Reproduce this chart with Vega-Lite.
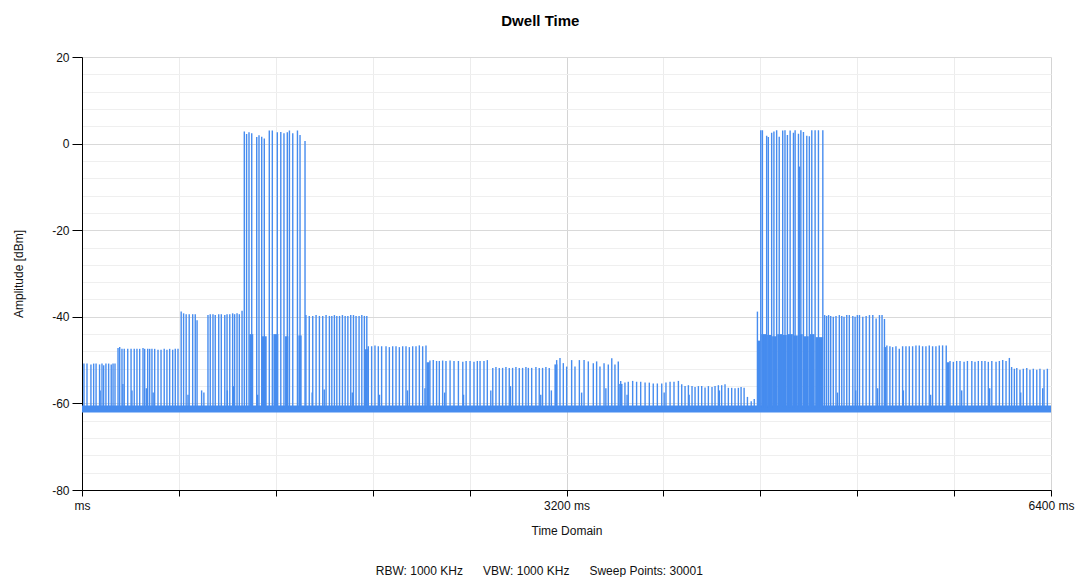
{
  "$schema": "https://vega.github.io/schema/vega-lite/v6.json",
  "background": "white",
  "padding": {"left": 12, "top": 14, "right": 3, "bottom": 0},
  "title": {
    "text": "RBW: 1000 KHz\u00a0\u00a0\u00a0\u00a0\u00a0\u00a0VBW: 1000 KHz\u00a0\u00a0\u00a0\u00a0\u00a0\u00a0Sweep Points: 30001",
    "orient": "bottom",
    "anchor": "middle",
    "font": "Liberation Sans",
    "fontSize": 12,
    "fontWeight": "normal",
    "color": "#111",
    "offset": 30,
    "dx": -4
  },
  "datasets": {
    "baseline": [
      {"t": 0, "lo": -62.1, "hi": -60.5},
      {"t": 6400, "lo": -62.1, "hi": -60.5}
    ],
    "blocks": [
      {"t0": 1105, "t1": 1131, "top": -44}, {"t0": 1187, "t1": 1220, "top": -44.5}, {"t0": 1264, "t1": 1297, "top": -44},
      {"t0": 1341, "t1": 1363, "top": -44.5}, {"t0": 1429, "t1": 1451, "top": -44.3},
      {"t0": 4462, "t1": 4480, "top": -45.5}, {"t0": 4486, "t1": 4520, "top": -44}, {"t0": 4525, "t1": 4552, "top": -44.2},
      {"t0": 4558, "t1": 4585, "top": -44.5}, {"t0": 4592, "t1": 4625, "top": -44}, {"t0": 4630, "t1": 4655, "top": -44.2},
      {"t0": 4662, "t1": 4695, "top": -44}, {"t0": 4702, "t1": 4728, "top": -44.3}, {"t0": 4735, "t1": 4760, "top": -44},
      {"t0": 4768, "t1": 4800, "top": -44.5}, {"t0": 4808, "t1": 4838, "top": -44}, {"t0": 4845, "t1": 4895, "top": -44.7},
      {"t0": 2276, "t1": 2296, "top": -50.5}, {"t0": 3120, "t1": 3140, "top": -51}, {"t0": 3548, "t1": 3570, "top": -55.5},
      {"t0": 5711, "t1": 5730, "top": -50.5}, {"t0": 5296, "t1": 5312, "top": -47}, {"t0": 1868, "t1": 1888, "top": -47.5}
    ],
    "spikes": [
      {"t": 13, "p": -50.8}, {"t": 33, "p": -50.8}, {"t": 59, "p": -51}, {"t": 77, "p": -50.8}, {"t": 93, "p": -50.8},
      {"t": 116, "p": -51}, {"t": 132, "p": -50.8}, {"t": 143, "p": -51.2}, {"t": 158, "p": -50.8}, {"t": 176, "p": -50.8},
      {"t": 193, "p": -51}, {"t": 205, "p": -50.8}, {"t": 218, "p": -50.8},
      {"t": 238, "p": -47.2}, {"t": 249, "p": -47}, {"t": 264, "p": -47.4}, {"t": 279, "p": -47.4}, {"t": 302, "p": -47.4},
      {"t": 324, "p": -47.4}, {"t": 345, "p": -47.4}, {"t": 363, "p": -47.4}, {"t": 381, "p": -47.4}, {"t": 403, "p": -47.2},
      {"t": 414, "p": -47.4}, {"t": 434, "p": -47.4}, {"t": 447, "p": -47.4}, {"t": 462, "p": -47.4}, {"t": 480, "p": -47.4},
      {"t": 502, "p": -47.6}, {"t": 522, "p": -47.6}, {"t": 543, "p": -47.4}, {"t": 561, "p": -47.6}, {"t": 579, "p": -47.4},
      {"t": 599, "p": -47.6}, {"t": 616, "p": -47.4}, {"t": 634, "p": -47.4},
      {"t": 655, "p": -38.8}, {"t": 671, "p": -39.2}, {"t": 688, "p": -39.4}, {"t": 708, "p": -39.4}, {"t": 731, "p": -39.4},
      {"t": 748, "p": -39.4}, {"t": 760, "p": -40.8},
      {"t": 832, "p": -39.6}, {"t": 847, "p": -39.4}, {"t": 865, "p": -39.4}, {"t": 880, "p": -39.6}, {"t": 903, "p": -39.4},
      {"t": 920, "p": -39.4}, {"t": 943, "p": -39.6}, {"t": 958, "p": -39.4}, {"t": 976, "p": -39.4}, {"t": 995, "p": -39.2},
      {"t": 1008, "p": -39.4}, {"t": 1024, "p": -39.2}, {"t": 1039, "p": -39.4}, {"t": 1057, "p": -38.6},
      {"t": 1072, "p": 2.8}, {"t": 1087, "p": 2.2}, {"t": 1103, "p": 2.6}, {"t": 1121, "p": 2.4}, {"t": 1154, "p": 1.5},
      {"t": 1169, "p": 1.9}, {"t": 1187, "p": 1.6}, {"t": 1204, "p": 1.2}, {"t": 1237, "p": 3.0}, {"t": 1257, "p": 3.0},
      {"t": 1290, "p": 2.6}, {"t": 1313, "p": 2.7}, {"t": 1334, "p": 2.4}, {"t": 1356, "p": 2.6}, {"t": 1370, "p": 3.0},
      {"t": 1392, "p": 2.4}, {"t": 1423, "p": 3.0}, {"t": 1440, "p": 2.0}, {"t": 1473, "p": 0.6},
      {"t": 1479, "p": -39.6}, {"t": 1501, "p": -39.8}, {"t": 1524, "p": -39.8}, {"t": 1546, "p": -39.6}, {"t": 1568, "p": -39.8},
      {"t": 1590, "p": -39.8}, {"t": 1612, "p": -39.6}, {"t": 1634, "p": -39.8}, {"t": 1650, "p": -39.8}, {"t": 1667, "p": -39.6},
      {"t": 1683, "p": -39.8}, {"t": 1701, "p": -39.8}, {"t": 1720, "p": -39.6}, {"t": 1738, "p": -39.8}, {"t": 1756, "p": -39.8},
      {"t": 1775, "p": -39.6}, {"t": 1793, "p": -39.6}, {"t": 1810, "p": -39.8}, {"t": 1830, "p": -39.8}, {"t": 1848, "p": -39.6},
      {"t": 1865, "p": -39.8}, {"t": 1881, "p": -39.8},
      {"t": 1891, "p": -46.8}, {"t": 1913, "p": -46.8}, {"t": 1935, "p": -46.6}, {"t": 1957, "p": -46.8}, {"t": 1979, "p": -46.8},
      {"t": 2008, "p": -46.8}, {"t": 2030, "p": -47}, {"t": 2052, "p": -46.8}, {"t": 2074, "p": -46.8}, {"t": 2096, "p": -47},
      {"t": 2118, "p": -46.8}, {"t": 2140, "p": -46.8}, {"t": 2162, "p": -47}, {"t": 2184, "p": -46.8}, {"t": 2206, "p": -46.8},
      {"t": 2228, "p": -46.6}, {"t": 2250, "p": -46.8}, {"t": 2272, "p": -46.6},
      {"t": 2298, "p": -50.1}, {"t": 2320, "p": -50}, {"t": 2342, "p": -50.2}, {"t": 2360, "p": -50.2}, {"t": 2382, "p": -50.1},
      {"t": 2404, "p": -50.2}, {"t": 2431, "p": -50.1}, {"t": 2457, "p": -50.2}, {"t": 2486, "p": -50.2}, {"t": 2515, "p": -50.4},
      {"t": 2537, "p": -50.2}, {"t": 2563, "p": -50.2}, {"t": 2589, "p": -50.4}, {"t": 2611, "p": -50.2}, {"t": 2629, "p": -50.2},
      {"t": 2655, "p": -50.2}, {"t": 2677, "p": -50},
      {"t": 2713, "p": -51.8}, {"t": 2734, "p": -51.6}, {"t": 2756, "p": -51.8}, {"t": 2778, "p": -51.8}, {"t": 2800, "p": -51.6},
      {"t": 2822, "p": -51.8}, {"t": 2844, "p": -51.8}, {"t": 2866, "p": -51.6}, {"t": 2888, "p": -51.8}, {"t": 2910, "p": -51.8},
      {"t": 2932, "p": -51.6}, {"t": 2948, "p": -51.8}, {"t": 2970, "p": -51.8}, {"t": 2998, "p": -51.6}, {"t": 3020, "p": -51.8},
      {"t": 3042, "p": -51.8}, {"t": 3064, "p": -51.6}, {"t": 3086, "p": -51.8},
      {"t": 3135, "p": -50}, {"t": 3157, "p": -49.5}, {"t": 3179, "p": -50.7}, {"t": 3201, "p": -51.5}, {"t": 3234, "p": -50},
      {"t": 3256, "p": -51.5}, {"t": 3285, "p": -50}, {"t": 3316, "p": -50}, {"t": 3344, "p": -50.3}, {"t": 3377, "p": -50.7},
      {"t": 3399, "p": -50.3}, {"t": 3421, "p": -51.5}, {"t": 3448, "p": -50.7}, {"t": 3476, "p": -51}, {"t": 3499, "p": -49.6},
      {"t": 3520, "p": -51}, {"t": 3542, "p": -50.3},
      {"t": 3558, "p": -54.8}, {"t": 3586, "p": -55.2}, {"t": 3608, "p": -55}, {"t": 3637, "p": -54.8}, {"t": 3663, "p": -55},
      {"t": 3690, "p": -55}, {"t": 3719, "p": -55.2}, {"t": 3747, "p": -55.2}, {"t": 3773, "p": -55.4}, {"t": 3800, "p": -55.4},
      {"t": 3829, "p": -55.4}, {"t": 3857, "p": -55.2}, {"t": 3884, "p": -55}, {"t": 3910, "p": -55}, {"t": 3939, "p": -54.8},
      {"t": 3961, "p": -55.6}, {"t": 3983, "p": -56}, {"t": 4005, "p": -55.8}, {"t": 4029, "p": -56}, {"t": 4049, "p": -56.2},
      {"t": 4071, "p": -56}, {"t": 4093, "p": -56}, {"t": 4115, "p": -56.3}, {"t": 4137, "p": -56}, {"t": 4161, "p": -56.2},
      {"t": 4181, "p": -56}, {"t": 4203, "p": -55.8}, {"t": 4225, "p": -55.8}, {"t": 4247, "p": -55.6}, {"t": 4269, "p": -56.4},
      {"t": 4291, "p": -56.4}, {"t": 4313, "p": -56.5}, {"t": 4335, "p": -56.4}, {"t": 4353, "p": -56.2}, {"t": 4373, "p": -56.4},
      {"t": 4395, "p": -58.5}, {"t": 4420, "p": -59.5}, {"t": 4440, "p": -59},
      {"t": 4461, "p": -38.8},
      {"t": 4483, "p": 3.1}, {"t": 4494, "p": 3.1}, {"t": 4522, "p": 1.8}, {"t": 4533, "p": 1.5}, {"t": 4555, "p": 2.5},
      {"t": 4570, "p": 2.8}, {"t": 4588, "p": 3.1}, {"t": 4605, "p": 1.6}, {"t": 4628, "p": 3.0}, {"t": 4643, "p": 3.1},
      {"t": 4659, "p": 2.0}, {"t": 4677, "p": 3.0}, {"t": 4699, "p": 2.5}, {"t": 4710, "p": 3.1}, {"t": 4732, "p": 2.3},
      {"t": 4740, "p": -5.3}, {"t": 4748, "p": 3.1}, {"t": 4765, "p": 2.7}, {"t": 4787, "p": 1.8}, {"t": 4804, "p": 1.7},
      {"t": 4820, "p": 3.1}, {"t": 4842, "p": 3.1}, {"t": 4864, "p": 3.1}, {"t": 4893, "p": 3.1},
      {"t": 4905, "p": -39.6}, {"t": 4918, "p": -39.8}, {"t": 4931, "p": -39.6}, {"t": 4945, "p": -39.8}, {"t": 4962, "p": -40},
      {"t": 4980, "p": -39.8}, {"t": 5002, "p": -39.6}, {"t": 5018, "p": -39.8}, {"t": 5033, "p": -40}, {"t": 5051, "p": -39.6},
      {"t": 5068, "p": -39.6}, {"t": 5091, "p": -39.8}, {"t": 5106, "p": -40}, {"t": 5121, "p": -39.6}, {"t": 5135, "p": -39.6},
      {"t": 5157, "p": -40}, {"t": 5179, "p": -39.8}, {"t": 5201, "p": -39.6}, {"t": 5223, "p": -39.6}, {"t": 5245, "p": -40.4},
      {"t": 5267, "p": -39.6}, {"t": 5284, "p": -39.6}, {"t": 5300, "p": -40.5},
      {"t": 5316, "p": -46.6}, {"t": 5336, "p": -46.8}, {"t": 5354, "p": -47}, {"t": 5376, "p": -46.8}, {"t": 5398, "p": -47.4},
      {"t": 5420, "p": -46.8}, {"t": 5442, "p": -46.8}, {"t": 5464, "p": -46.8}, {"t": 5486, "p": -46.8}, {"t": 5508, "p": -46.6},
      {"t": 5530, "p": -46.6}, {"t": 5552, "p": -46.8}, {"t": 5574, "p": -46.8}, {"t": 5596, "p": -46.6}, {"t": 5618, "p": -46.8},
      {"t": 5640, "p": -46.8}, {"t": 5662, "p": -46.6}, {"t": 5684, "p": -46.6}, {"t": 5708, "p": -46.6},
      {"t": 5733, "p": -50.2}, {"t": 5755, "p": -50.4}, {"t": 5777, "p": -50.2}, {"t": 5799, "p": -50.2}, {"t": 5826, "p": -50.4},
      {"t": 5848, "p": -50.2}, {"t": 5877, "p": -50.2}, {"t": 5898, "p": -50.4}, {"t": 5920, "p": -50.2}, {"t": 5943, "p": -50.2},
      {"t": 5964, "p": -50.2}, {"t": 5986, "p": -50.4}, {"t": 6009, "p": -50.2}, {"t": 6037, "p": -50.4}, {"t": 6059, "p": -50.2},
      {"t": 6081, "p": -50}, {"t": 6103, "p": -50.2}, {"t": 6125, "p": -49.5},
      {"t": 6140, "p": -51.6}, {"t": 6158, "p": -52}, {"t": 6174, "p": -51.8}, {"t": 6195, "p": -52.2}, {"t": 6217, "p": -52},
      {"t": 6240, "p": -51.8}, {"t": 6261, "p": -52.2}, {"t": 6283, "p": -52}, {"t": 6306, "p": -52.2}, {"t": 6327, "p": -52},
      {"t": 6354, "p": -52.2}, {"t": 6376, "p": -52},
      {"t": 120, "p": -57}, {"t": 270, "p": -55.5}, {"t": 330, "p": -57}, {"t": 425, "p": -56.5}, {"t": 470, "p": -57.5},
      {"t": 700, "p": -58}, {"t": 790, "p": -57}, {"t": 805, "p": -57.5}, {"t": 960, "p": -57}, {"t": 1000, "p": -56},
      {"t": 1160, "p": -58}, {"t": 1520, "p": -57.5}, {"t": 1600, "p": -56.8}, {"t": 1785, "p": -57.5}, {"t": 1875, "p": -57},
      {"t": 1965, "p": -58}, {"t": 2150, "p": -57}, {"t": 2265, "p": -56.5}, {"t": 2395, "p": -57.5}, {"t": 2520, "p": -58},
      {"t": 2700, "p": -57}, {"t": 2830, "p": -56}, {"t": 3030, "p": -58}, {"t": 3100, "p": -57}, {"t": 3300, "p": -57.5},
      {"t": 3460, "p": -56.5}, {"t": 3600, "p": -58}, {"t": 3845, "p": -57.5}, {"t": 4010, "p": -58}, {"t": 4210, "p": -57},
      {"t": 4990, "p": -57.5}, {"t": 5110, "p": -57}, {"t": 5255, "p": -56.5}, {"t": 5425, "p": -57}, {"t": 5605, "p": -58},
      {"t": 5810, "p": -57}, {"t": 5995, "p": -56.5}, {"t": 6200, "p": -57.5}, {"t": 6345, "p": -56.5}
    ]
  },
  "vconcat": [
    {
      "width": 969,
      "height": 433,
      "title": {
        "text": "Dwell Time",
        "anchor": "middle",
        "frame": "bounds",
        "font": "Liberation Sans",
        "fontSize": 15,
        "fontWeight": "bold",
        "color": "#000",
        "offset": 22,
        "dx": -3
      },
      "layer": [
        {
          "data": {"name": "baseline"},
          "mark": {"type": "area", "color": "#468CEF", "opacity": 1},
          "encoding": {
            "x": {
              "field": "t", "type": "quantitative", "title": "Time Domain",
              "scale": {"domain": [0, 6400], "nice": false, "zero": false},
              "axis": {
                "values": [0, 640, 1280, 1920, 2560, 3200, 3840, 4480, 5120, 5760, 6400],
                "tickCount": 100,
                "labelExpr": "datum.value === 0 ? 'ms' : (datum.value % 3200 === 0 ? datum.value + ' ms' : '')",
                "labelFlush": false,
                "labelOverlap": false,
                "tickSize": 6,
                "labelPadding": 4,
                "titlePadding": 14,
                "gridColor": {"condition": {"test": "datum.value % 3200 === 0", "value": "#d4d4d4"}, "value": "#ececec"}
              }
            },
            "y": {
              "field": "lo", "type": "quantitative", "title": "Amplitude [dBm]",
              "scale": {"domain": [-80, 20], "nice": false, "zero": false},
              "axis": {
                "values": [-80, -76, -72, -68, -64, -60, -56, -52, -48, -44, -40, -36, -32, -28, -24, -20, -16, -12, -8, -4, 0, 4, 8, 12, 16, 20],
                "tickCount": 100,
                "labelExpr": "datum.value % 20 === 0 ? '' + datum.value : ''",
                "labelOverlap": false,
                "tickOpacity": {"condition": {"test": "datum.value % 20 === 0", "value": 1}, "value": 0},
                "tickSize": 10,
                "labelPadding": 3,
                "titlePadding": 26,
                "gridColor": {"condition": {"test": "datum.value % 20 === 0", "value": "#d9d9d9"}, "value": "#efefef"}
              }
            },
            "y2": {"field": "hi"}
          }
        },
        {
          "data": {"name": "blocks"},
          "mark": {"type": "rect", "color": "#468CEF"},
          "encoding": {
            "x": {"field": "t0", "type": "quantitative", "title": "Time Domain"},
            "x2": {"field": "t1"},
            "y": {"field": "top", "type": "quantitative", "title": "Amplitude [dBm]"},
            "y2": {"datum": -61}
          }
        },
        {
          "data": {"name": "spikes"},
          "mark": {"type": "rule", "color": "#468CEF", "strokeWidth": 1.4},
          "encoding": {
            "x": {"field": "t", "type": "quantitative", "title": "Time Domain"},
            "y": {"field": "p", "type": "quantitative", "title": "Amplitude [dBm]"},
            "y2": {"datum": -61}
          }
        }
      ]
    }
  ],
  "config": {
    "view": {"stroke": null},
    "font": "Liberation Sans",
    "axis": {
      "labelFont": "Liberation Sans",
      "titleFont": "Liberation Sans",
      "labelFontSize": 12,
      "titleFontSize": 12,
      "titleFontWeight": "normal",
      "labelColor": "#111",
      "titleColor": "#111",
      "domainColor": "#000",
      "tickColor": "#000",
      "domainWidth": 1,
      "tickWidth": 1
    }
  }
}
